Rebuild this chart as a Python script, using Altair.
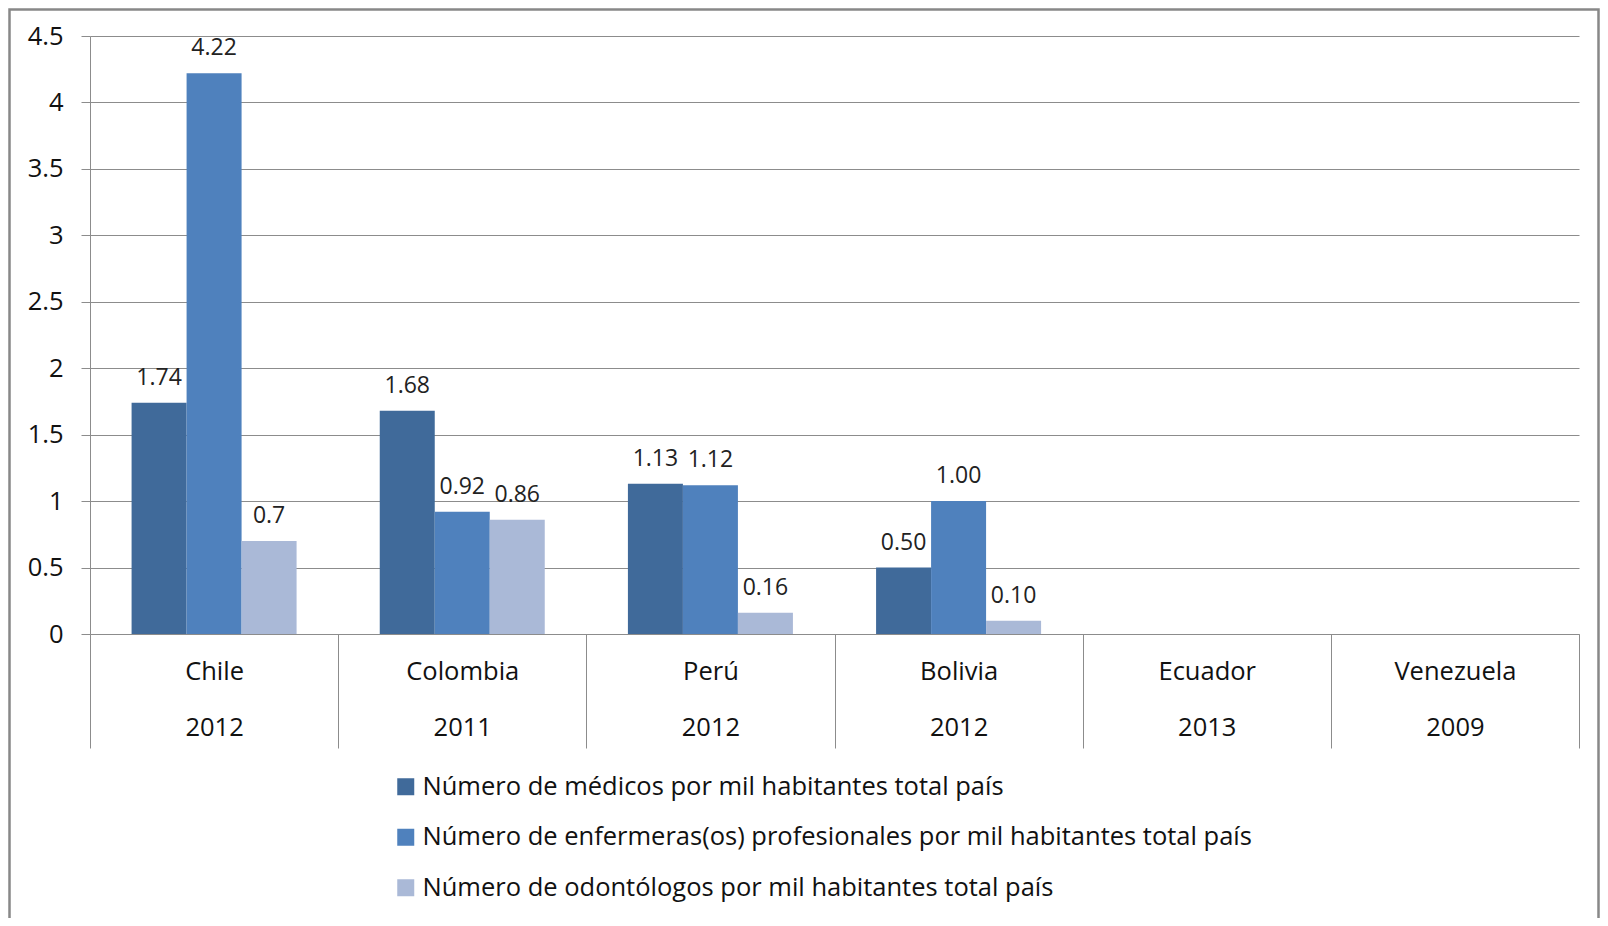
import altair as alt
import pandas as pd

countries = ["Chile", "Colombia", "Perú", "Bolivia", "Ecuador", "Venezuela"]
years = ["2012", "2011", "2012", "2012", "2013", "2009"]
series = [
    "Número de médicos por mil habitantes total país",
    "Número de enfermeras(os) profesionales por mil habitantes total país",
    "Número de odontólogos por mil habitantes total país",
]
medicos = [1.74, 1.68, 1.13, 0.50, None, None]
enfermeras = [4.22, 0.92, 1.12, 1.00, None, None]
odontologos = [0.70, 0.86, 0.16, 0.10, None, None]
medicos_lbl = ["1.74", "1.68", "1.13", "0.50", "", ""]
enfermeras_lbl = ["4.22", "0.92", "1.12", "1.00", "", ""]
odontologos_lbl = ["0.7", "0.86", "0.16", "0.10", "", ""]
colors = ["#406A9A", "#4F81BD", "#AAB9D7"]
y_ticks = [0, 0.5, 1, 1.5, 2, 2.5, 3, 3.5, 4, 4.5]

cats = [f"{c}|{y}" for c, y in zip(countries, years)]
rows = []
for s, vals, lbls in zip(series, [medicos, enfermeras, odontologos],
                         [medicos_lbl, enfermeras_lbl, odontologos_lbl]):
    for cat, v, l in zip(cats, vals, lbls):
        if v is not None:
            rows.append({"cat": cat, "series": s, "value": v, "label": l})
df = pd.DataFrame(rows)

FONT = "Open Sans"
GRID = "#8c8c8c"
FS = 25.5

x_enc = alt.X(
    "cat:N",
    scale=alt.Scale(domain=cats, paddingInner=0, paddingOuter=0),
    axis=alt.Axis(
        title=None, labelExpr="split(datum.label, '|')", labelAngle=0,
        tickBand="extent", tickSize=114, tickColor=GRID, domainColor=GRID,
        labelPadding=-89, labelLineHeight=56, labelFontSize=FS, labelFont=FONT,
        labelColor="#111111", grid=False, labelBaseline="top",
    ),
)
y_enc = alt.Y(
    "value:Q",
    scale=alt.Scale(domain=[0, 4.5], nice=False),
    axis=alt.Axis(
        values=y_ticks, format="~g", title=None, labelFontSize=FS, labelFont=FONT,
        labelColor="#111111", tickSize=9, labelPadding=18, tickColor=GRID,
        domainColor=GRID, gridColor=GRID, grid=True,
    ),
)
xoff = alt.XOffset("series:N", scale=alt.Scale(domain=series, paddingInner=0, paddingOuter=0.756))

bars = alt.Chart(df).mark_bar().encode(
    x=x_enc, y=y_enc, xOffset=xoff,
    color=alt.Color(
        "series:N", scale=alt.Scale(domain=series, range=colors),
        legend=alt.Legend(
            title=None, orient="none", legendX=303, legendY=738, direction="vertical",
            symbolType="square", symbolSize=289, symbolStrokeWidth=0,
            labelFontSize=FS, labelFont=FONT, labelColor="#111111", labelLimit=0,
            rowPadding=23.5, padding=0, labelOffset=4,
        ),
    ),
)
texts = alt.Chart(df).mark_text(
    baseline="alphabetic", dy=-18, fontSize=23, font=FONT, color="#222222"
).encode(x=x_enc, y=y_enc, xOffset=xoff, text="label:N")

frame = alt.Chart(alt.Data(values=[{}])).mark_rect(
    filled=False, stroke="#888888", strokeWidth=2.5
).encode(x=alt.value(-80.5), x2=alt.value(1508.5), y=alt.value(-26.5), y2=alt.value(940))

chart = alt.layer(frame, bars, texts).properties(
    width=1489, height=598,
    autosize=alt.AutoSizeParams(type="none"),
    padding={"left": 82, "top": 28, "right": 21, "bottom": 284},
).configure_view(stroke=None)

chart.save("out.html", embed_options={"renderer": "svg", "actions": False})
